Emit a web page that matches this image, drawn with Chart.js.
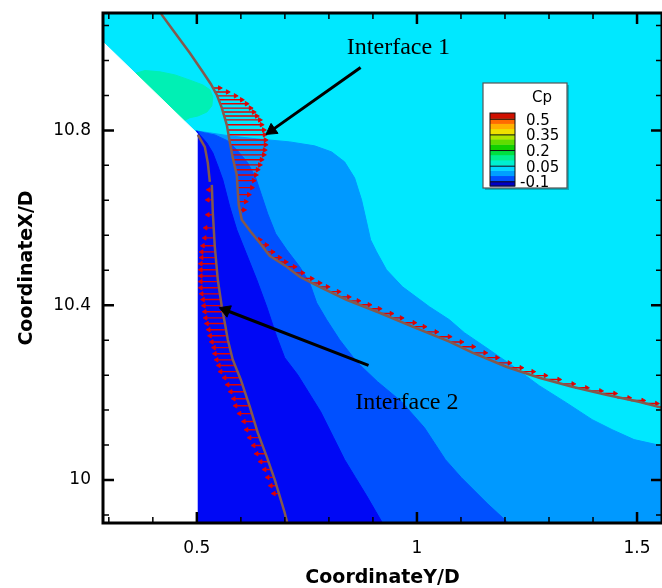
<!DOCTYPE html>
<html>
<head>
<meta charset="utf-8">
<script src="https://cdn.jsdelivr.net/npm/chart.js@4.4.1/dist/chart.umd.min.js"></script>
<style>
  html, body { margin: 0; padding: 0; background: #fff; overflow: hidden; }
  #wrap { width: 670px; height: 588px; }
</style>
</head>
<body>
<div id="wrap"><canvas id="cp" width="670" height="588"></canvas></div>
<script>
// Cp contours around the two interfaces

// filled contour bands, outlines in CoordinateY/D (x) and CoordinateX/D (y)
const bgX = [0.25, 1.6, 1.6, 0.25];
const bgY = [11.1, 11.1, 9.85, 9.85];

const lightX = [0.4977, 0.5295, 0.5748, 0.6361, 0.7109, 0.7676, 0.8061, 0.8356, 0.8583, 0.8741, 0.8855, 0.8946, 0.9082, 0.9308, 0.9671, 1.0283, 1.0737, 1.1077, 1.1644, 1.2166, 1.2778, 1.3390, 1.3980, 1.4433, 1.4932, 1.5544, 1.5952, 1.6, 0.4977];
const lightY = [10.7989, 10.7943, 10.7874, 10.7806, 10.7737, 10.7646, 10.7508, 10.7280, 10.6914, 10.6411, 10.5908, 10.5497, 10.5222, 10.4811, 10.4422, 10.3965, 10.3668, 10.3371, 10.2982, 10.2617, 10.2159, 10.1771, 10.1382, 10.1153, 10.0925, 10.0788, 10.0765, 9.85, 9.85];

const medX = [0.4977, 0.5181, 0.5408, 0.5703, 0.5930, 0.6156, 0.6338, 0.6474, 0.6610, 0.6791, 0.7041, 0.7336, 0.7562, 0.7721, 0.7948, 0.8243, 0.8628, 0.9104, 0.9649, 1.0170, 1.0646, 1.1009, 1.1599, 1.2166, 1.2211, 0.4977];
const medY = [10.7989, 10.7943, 10.7897, 10.7760, 10.7531, 10.7257, 10.6914, 10.6503, 10.6091, 10.5634, 10.5268, 10.4879, 10.4513, 10.4056, 10.3668, 10.3210, 10.2707, 10.2250, 10.1793, 10.1198, 10.0467, 10.0055, 9.9461, 9.8935, 9.8638, 9.8638];

const darkX = [0.5, 0.5068, 0.5227, 0.5363, 0.5476, 0.5590, 0.5748, 0.5907, 0.6134, 0.6361, 0.6587, 0.6814, 0.6995, 0.7290, 0.7812, 0.8107, 0.8356, 0.8605, 0.8855, 0.9263, 0.9286, 0.5];
const darkY = [10.7989, 10.7897, 10.7714, 10.7486, 10.7188, 10.6868, 10.6251, 10.5725, 10.5154, 10.4582, 10.3965, 10.3279, 10.2799, 10.2410, 10.1564, 10.0970, 10.0467, 10.0055, 9.9644, 9.8935, 9.8638, 9.8638];

const greenX = [0.3594, 0.3821, 0.4161, 0.4501, 0.4841, 0.5136, 0.5295, 0.5363, 0.5340, 0.5227, 0.5023, 0.4841, 0.4705, 0.3934];
const greenY = [10.930, 10.937, 10.934, 10.927, 10.915, 10.904, 10.893, 10.877, 10.856, 10.842, 10.833, 10.829, 10.822, 10.847];

// solid body (no flow)
const wallX = [0.25, 0.5, 0.5, 0.25];
const wallY = [11.038, 10.794, 9.85, 9.85];

// interface lines
const if1X = [0.4161, 0.4206, 0.4456, 0.4841, 0.5136, 0.5317, 0.5454, 0.5567, 0.5680, 0.5748, 0.5816, 0.5907, 0.5930, 0.5952, 0.6020, 0.6224, 0.6429, 0.6655, 0.7041, 0.7336, 0.7789, 0.8401, 0.9150, 0.9898, 1.0737, 1.1259, 1.2029, 1.2778, 1.3526, 1.4297, 1.5045, 1.5726];
const if1Y = [11.0755, 11.0641, 11.0298, 10.9772, 10.9337, 10.9063, 10.8812, 10.8514, 10.8126, 10.7737, 10.7371, 10.6983, 10.6594, 10.6297, 10.5954, 10.5680, 10.5428, 10.5131, 10.4879, 10.4651, 10.4422, 10.4125, 10.3828, 10.3508, 10.3165, 10.2913, 10.2593, 10.2342, 10.2136, 10.1953, 10.1793, 10.1610];

const if2aX = [0.5023, 0.5181, 0.5249, 0.5295];
const if2aY = [10.7897, 10.7623, 10.7257, 10.6823];
const if2bX = [0.5340, 0.5363, 0.5408, 0.5476, 0.5567, 0.5635, 0.5703, 0.5816, 0.5998, 0.6202, 0.6383, 0.6587, 0.6769, 0.6995, 0.7063];
const if2bY = [10.6754, 10.6114, 10.5337, 10.4582, 10.3965, 10.3599, 10.3210, 10.2753, 10.2296, 10.1678, 10.1084, 10.0535, 10.0011, 9.9257, 9.8982];

// velocity vectors: row height, start and end in CoordinateY/D
const vec1Y = [10.897, 10.888, 10.879, 10.870, 10.861, 10.851, 10.842, 10.833, 10.824, 10.813, 10.801, 10.790, 10.778, 10.767, 10.755, 10.744, 10.733, 10.721, 10.710, 10.698, 10.685, 10.669, 10.653, 10.637, 10.618];
const vec1Base = [0.535, 0.540, 0.545, 0.550, 0.553, 0.557, 0.559, 0.562, 0.565, 0.568, 0.570, 0.573, 0.575, 0.577, 0.579, 0.580, 0.583, 0.585, 0.587, 0.591, 0.592, 0.593, 0.594, 0.595, 0.598];
const vec1Tip = [0.552, 0.570, 0.588, 0.602, 0.613, 0.622, 0.629, 0.636, 0.643, 0.647, 0.652, 0.654, 0.656, 0.656, 0.654, 0.652, 0.647, 0.643, 0.638, 0.634, 0.629, 0.625, 0.618, 0.611, 0.607];

const tick1Y = [10.550, 10.538, 10.522, 10.509, 10.499, 10.488, 10.474, 10.461, 10.451, 10.442, 10.431, 10.419, 10.410, 10.401, 10.392, 10.381, 10.371, 10.360, 10.351, 10.339, 10.328, 10.316, 10.305, 10.291, 10.280, 10.268, 10.257, 10.248, 10.239, 10.230, 10.220, 10.211, 10.204, 10.198, 10.188, 10.182, 10.175, 10.168];
const tick1Base = [0.634, 0.647, 0.661, 0.675, 0.688, 0.706, 0.724, 0.743, 0.761, 0.779, 0.802, 0.824, 0.847, 0.870, 0.892, 0.920, 0.942, 0.969, 0.992, 1.019, 1.046, 1.074, 1.101, 1.128, 1.155, 1.183, 1.210, 1.237, 1.264, 1.296, 1.328, 1.359, 1.391, 1.423, 1.455, 1.486, 1.518, 1.545];
const tick1Tip = [0.643, 0.658, 0.672, 0.688, 0.702, 0.722, 0.740, 0.761, 0.779, 0.797, 0.822, 0.845, 0.867, 0.892, 0.915, 0.942, 0.965, 0.994, 1.017, 1.044, 1.074, 1.101, 1.128, 1.155, 1.182, 1.210, 1.237, 1.264, 1.292, 1.323, 1.355, 1.386, 1.418, 1.450, 1.482, 1.514, 1.545, 1.568];

const vec2Y = [10.664, 10.641, 10.607, 10.577, 10.554, 10.536, 10.522, 10.509, 10.495, 10.481, 10.467, 10.454, 10.440, 10.426, 10.413, 10.399, 10.385, 10.371, 10.358, 10.344, 10.330, 10.316, 10.303, 10.289, 10.275, 10.262, 10.248, 10.234, 10.218, 10.202, 10.186, 10.170, 10.152, 10.134, 10.115, 10.097, 10.079, 10.060, 10.042, 10.024, 10.006, 9.987, 9.969];
const vec2Base = [0.534, 0.535, 0.536, 0.537, 0.539, 0.541, 0.542, 0.543, 0.544, 0.545, 0.546, 0.548, 0.550, 0.552, 0.554, 0.557, 0.559, 0.561, 0.563, 0.567, 0.569, 0.571, 0.575, 0.578, 0.582, 0.586, 0.591, 0.598, 0.603, 0.609, 0.613, 0.619, 0.626, 0.632, 0.636, 0.643, 0.650, 0.656, 0.663, 0.669, 0.676, 0.681, 0.687];
const vec2Tip = [0.527, 0.525, 0.525, 0.520, 0.518, 0.514, 0.511, 0.511, 0.509, 0.509, 0.509, 0.509, 0.509, 0.511, 0.514, 0.516, 0.518, 0.520, 0.523, 0.527, 0.530, 0.534, 0.539, 0.541, 0.545, 0.550, 0.554, 0.563, 0.570, 0.577, 0.584, 0.588, 0.597, 0.607, 0.613, 0.620, 0.629, 0.636, 0.645, 0.654, 0.661, 0.668, 0.675];

// annotations
const noteText = ['Interface 1', 'Interface 2'];
const noteX = [0.958, 0.977];
const noteY = [10.989, 10.177];
const pointerFromX = [0.872, 0.890];
const pointerFromY = [10.944, 10.2625];
const pointerToX = [0.670, 0.566];
const pointerToY = [10.800, 10.3885];

// colour bar
const cpLevels = [-0.1, 0.05, 0.2, 0.35, 0.5];
const cpBandColors = ['#0000C8', '#0050FF', '#00A0FF', '#00D8FF', '#00F0D0', '#00F090', '#00E040',
  '#10D000', '#60DC00', '#B0E600', '#F0E000', '#FFB000', '#FF6A00', '#D01000'];

const FONT = 'DejaVu Sans';
const RED = '#E00000';

const pts = (xs, ys) => xs.map((x, i) => ({ x, y: ys[i] }));
const segs = (ys, from, to) => ys.flatMap((y, i) => [{ x: from[i], y }, { x: to[i], y }, { x: null, y: null }]);
const isMajor = (v, step) => Math.abs(v / step - Math.round(v / step)) < 1e-6;

function band(xs, ys, color) {
  return { data: pts(xs, ys), fill: 'shape', backgroundColor: color, borderColor: color,
    borderWidth: 1, pointRadius: 0 };
}

const datasets = [
  { data: pointerToX.map((x, i) => ({ x, y: pointerToY[i] })), showLine: false,
    pointStyle: 'triangle', pointRadius: 7, pointRotation: [235, -69],
    backgroundColor: '#000', pointBorderColor: '#000', pointBorderWidth: 1 },
  { data: pointerFromX.flatMap((x, i) => [{ x, y: pointerFromY[i] }, { x: pointerToX[i], y: pointerToY[i] }, { x: null, y: null }]),
    borderColor: '#000', borderWidth: 3, pointRadius: 0 },
  { data: pts(if1X, if1Y), borderColor: '#84594D', borderWidth: 2.5, pointRadius: 0 },
  { data: pts(if2aX, if2aY), borderColor: '#84594D', borderWidth: 2.5, pointRadius: 0 },
  { data: pts(if2bX, if2bY), borderColor: '#84594D', borderWidth: 2.5, pointRadius: 0 },
  { data: [...pts(vec1Tip, vec1Y), ...pts(tick1Tip, tick1Y)], showLine: false,
    pointStyle: 'triangle', pointRadius: 2.6, pointRotation: 90,
    backgroundColor: RED, pointBorderColor: RED, pointBorderWidth: 0.8 },
  { data: pts(vec2Tip, vec2Y), showLine: false,
    pointStyle: 'triangle', pointRadius: 2.6, pointRotation: -90,
    backgroundColor: RED, pointBorderColor: RED, pointBorderWidth: 0.8 },
  { data: [...segs(vec1Y, vec1Base, vec1Tip), ...segs(tick1Y, tick1Base, tick1Tip), ...segs(vec2Y, vec2Base, vec2Tip)],
    borderColor: RED, borderWidth: 1.4, pointRadius: 0 },
  band(wallX, wallY, '#FFFFFF'),
  band(greenX, greenY, '#00F0B4'),
  band(darkX, darkY, '#0008F5'),
  band(medX, medY, '#0050FF'),
  band(lightX, lightY, '#0099FF'),
  band(bgX, bgY, '#00E8FF')
];
datasets.forEach((d, i) => { d.order = i; d.tension = 0; });

const decor = {
  id: 'decor',
  afterDatasetsDraw(chart) {
    const { ctx, chartArea: a, scales: { x, y } } = chart;
    ctx.save();
    ctx.strokeStyle = '#000';
    // inward ticks on all four sides
    for (const t of x.ticks) {
      const major = isMajor(t.value, 0.5), len = major ? 11 : 6, p = x.getPixelForValue(t.value);
      ctx.lineWidth = major ? 2.5 : 1.5;
      ctx.beginPath();
      ctx.moveTo(p, a.bottom); ctx.lineTo(p, a.bottom - len);
      ctx.moveTo(p, a.top); ctx.lineTo(p, a.top + len);
      ctx.stroke();
    }
    for (const t of y.ticks) {
      const major = isMajor(t.value, 0.4), len = major ? 11 : 6, p = y.getPixelForValue(t.value);
      ctx.lineWidth = major ? 2.5 : 1.5;
      ctx.beginPath();
      ctx.moveTo(a.left, p); ctx.lineTo(a.left + len, p);
      ctx.moveTo(a.right, p); ctx.lineTo(a.right - len, p);
      ctx.stroke();
    }
    ctx.lineWidth = 3;
    ctx.strokeRect(a.left, a.top, a.right - a.left, a.bottom - a.top);

    // labels for the interfaces
    ctx.fillStyle = '#000';
    ctx.font = '24px "Liberation Serif", "Times New Roman", serif';
    ctx.textAlign = 'center';
    ctx.textBaseline = 'middle';
    noteText.forEach((s, i) => ctx.fillText(s, x.getPixelForValue(noteX[i]), y.getPixelForValue(noteY[i])));

    // Cp colour bar
    const bx = 483, by = 83, bw = 84, bh = 105;
    ctx.fillStyle = 'rgba(0,0,0,0.25)';
    ctx.fillRect(bx + 2, by + 2, bw, bh);
    ctx.fillStyle = '#fff';
    ctx.fillRect(bx, by, bw, bh);
    ctx.lineWidth = 1.2;
    ctx.strokeStyle = '#555';
    ctx.strokeRect(bx, by, bw, bh);

    const lo = -0.14, hi = 0.56, top = 113, bot = 186, cx = 490, cw = 25;
    const py = v => bot - (v - lo) / (hi - lo) * (bot - top);
    const step = (hi - lo) / cpBandColors.length;
    cpBandColors.forEach((c, i) => {
      ctx.fillStyle = c;
      ctx.fillRect(cx, py(lo + (i + 1) * step), cw, py(lo + i * step) - py(lo + (i + 1) * step) + 0.5);
    });
    ctx.strokeStyle = '#111';
    ctx.lineWidth = 1;
    cpLevels.forEach(v => {
      ctx.beginPath(); ctx.moveTo(cx, py(v)); ctx.lineTo(cx + cw, py(v)); ctx.stroke();
    });
    ctx.strokeRect(cx, top, cw, bot - top);

    ctx.fillStyle = '#000';
    ctx.font = `15px "${FONT}"`;
    ctx.textAlign = 'center';
    ctx.fillText('Cp', 542, 98);
    ctx.textAlign = 'left';
    cpLevels.forEach(v => {
      const s = String(v);
      ctx.fillText(s.replace('-', '\u2011'), v < 0 ? 520 : 526, py(v) + 1.5);
    });
    ctx.restore();
  }
};

new Chart(document.getElementById('cp'), {
  type: 'line',
  data: { datasets },
  options: {
    responsive: false,
    devicePixelRatio: 1,
    animation: false,
    events: [],
    layout: { padding: { left: 0, top: 13, right: 7, bottom: 0 } },
    plugins: { legend: { display: false }, tooltip: { enabled: false } },
    scales: {
      x: {
        type: 'linear', min: 0.2868, max: 1.5567,
        grid: { display: false, drawTicks: false },
        border: { display: false },
        ticks: {
          stepSize: 0.1, includeBounds: false, autoSkip: false, maxRotation: 0, padding: 15, color: '#000',
          font: { family: FONT, size: 17 },
          callback: v => isMajor(v, 0.5) ? String(+v.toFixed(1)) : ''
        },
        title: {
          display: true, text: 'CoordinateY/D', color: '#000',
          font: { family: FONT, size: 19, weight: 'bold', lineHeight: 1 },
          padding: { top: 0, bottom: 0 }
        },
        afterFit: s => { s.height = 65; s.paddingLeft = 0; s.paddingRight = 0; }
      },
      y: {
        type: 'linear', min: 9.9017, max: 11.0686,
        grid: { display: false, drawTicks: false },
        border: { display: false },
        ticks: {
          stepSize: 0.08, includeBounds: false, autoSkip: false, padding: 12, color: '#000',
          font: { family: FONT, size: 17 },
          callback: v => isMajor(v, 0.4) ? String(+v.toFixed(1)) : ''
        },
        title: {
          display: true, text: 'CoordinateX/D', color: '#000',
          font: { family: FONT, size: 19, weight: 'bold', lineHeight: 1 },
          padding: { top: 18, bottom: 0 }
        },
        afterFit: s => { s.width = 103; s.paddingTop = 0; s.paddingBottom = 0; }
      }
    }
  },
  plugins: [decor]
});
</script>
</body>
</html>
